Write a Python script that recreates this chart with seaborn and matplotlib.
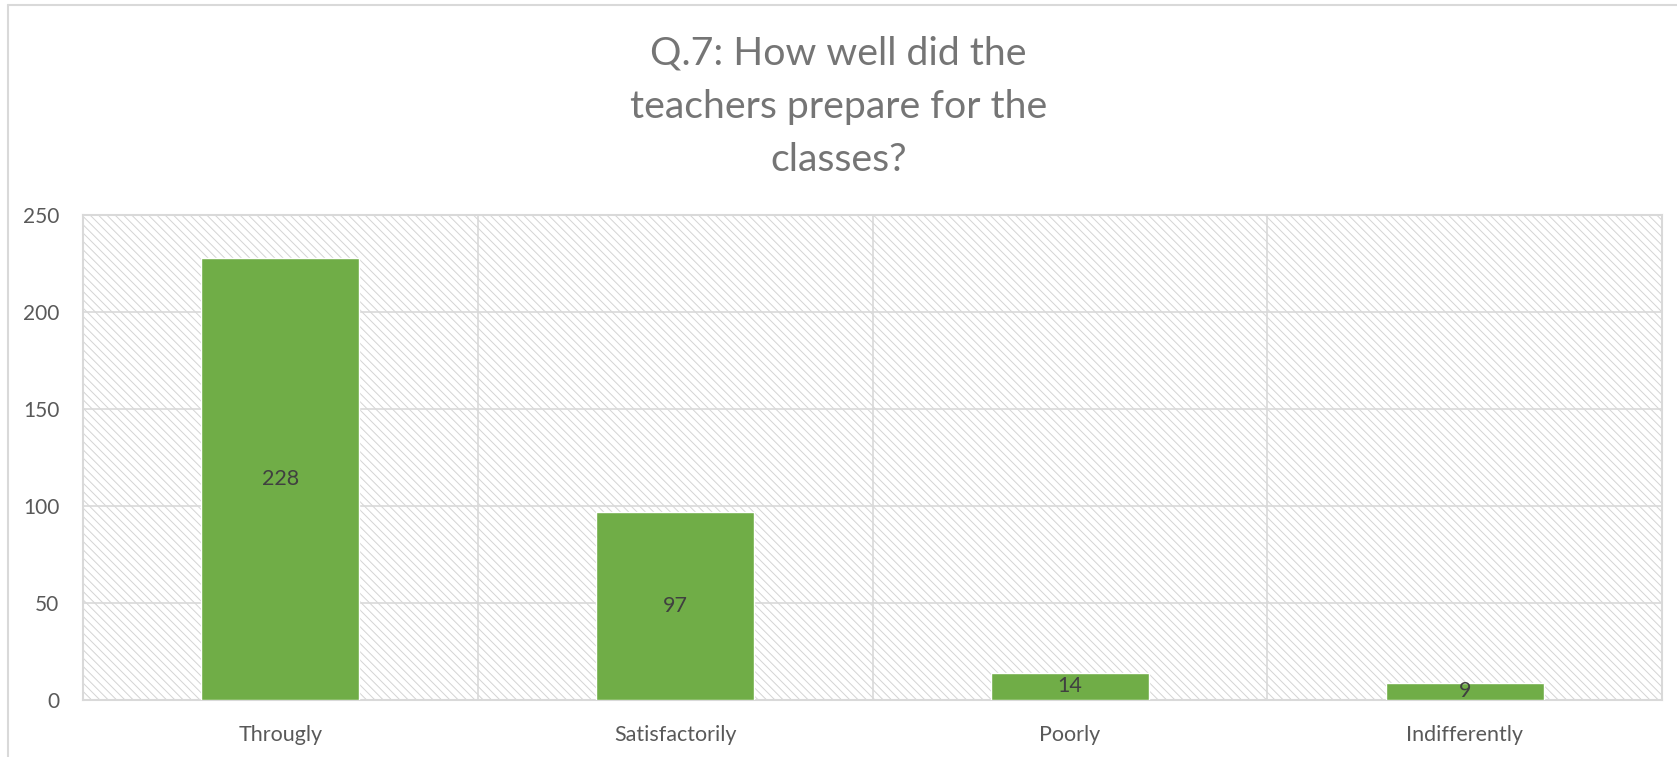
import matplotlib
matplotlib.use("Agg")
import matplotlib.pyplot as plt
import seaborn as sns
import pandas as pd
from matplotlib.lines import Line2D

categories = ["Througly", "Satisfactorily", "Poorly", "Indifferently"]
counts = [228, 97, 14, 9]
title = "Q.7: How well did the\nteachers prepare for the\nclasses?"

sns.set_theme(style="white")
plt.rcParams["font.family"] = ["Lato", "DejaVu Sans"]
plt.rcParams["hatch.color"] = "#d4d4d4"
plt.rcParams["hatch.linewidth"] = 0.7

df = pd.DataFrame({"answer": categories, "count": counts})

W, H = 1677, 757
fig = plt.figure(figsize=(W / 100, H / 100), dpi=100)
ax = fig.add_axes([83 / W, 1 - 700 / H, (1662 - 83) / W, (700 - 215) / H])

# hatched plot area
ax.patch.set_facecolor("white")
ax.patch.set_hatch("\\\\\\\\")
ax.patch.set_edgecolor("#d4d4d4")

sns.barplot(data=df, x="answer", y="count", color="#70AD47", width=0.4,
            saturation=1, ax=ax, zorder=3)

ax.set_ylim(0, 250)
ax.set_yticks(range(0, 251, 50))
ax.set_xlim(-0.5, 3.5)
ax.yaxis.grid(True, color="#d9d9d9", linewidth=1.2, zorder=1)
for xv in [0.5, 1.5, 2.5]:
    ax.axvline(xv, color="#d9d9d9", linewidth=1.2, zorder=1)
ax.set_axisbelow(True)
for s in ax.spines.values():
    s.set_color("#d9d9d9")
    s.set_linewidth(1.5)

ax.set_xlabel("")
ax.set_ylabel("")
ax.tick_params(axis="both", length=0, labelcolor="#595959")
ax.tick_params(axis="x", pad=18, labelsize=15.5)
ax.tick_params(axis="y", pad=17, labelsize=15)

for c in ax.containers:
    ax.bar_label(c, label_type="center", fontsize=15.5, color="#404040")

fig.text(0.5, 1 - 107 / H, title, ha="center", va="center", fontsize=28.3,
         color="#757575", linespacing=1.6)

# chart frame (left and top edges)
fig.add_artist(Line2D([8 / W, 8 / W], [0, 1 - 5 / H], transform=fig.transFigure,
                      color="#d9d9d9", linewidth=1.5))
fig.add_artist(Line2D([8 / W, 1], [1 - 5 / H, 1 - 5 / H], transform=fig.transFigure,
                      color="#d9d9d9", linewidth=1.5))

fig.savefig("out.png", dpi=100)
